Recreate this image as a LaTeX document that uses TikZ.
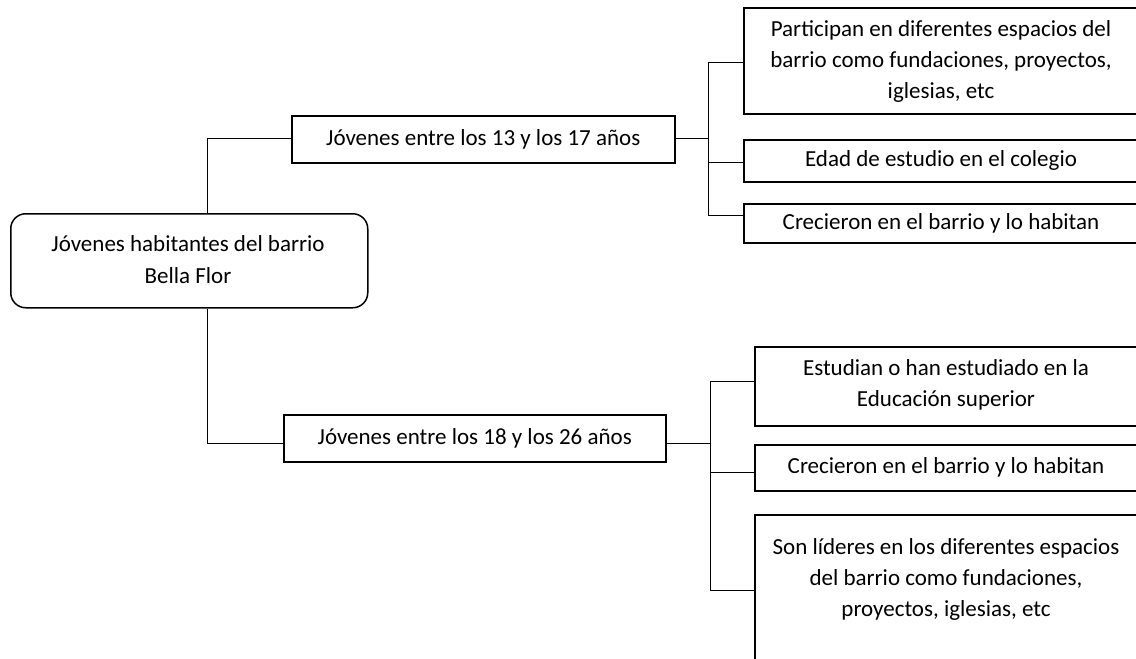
\documentclass[tikz,border=0pt]{standalone}
\usepackage{fontspec}
\setmainfont{Carlito}
\begin{document}
\begin{tikzpicture}[x=1pt,y=-1pt,
  box/.style={draw=black, line width=1.5pt, fill=white, inner sep=0pt, anchor=north west},
  txt/.style={align=center, font=\fontsize{23}{31}\selectfont, inner sep=0pt},
  conn/.style={draw=black, line width=1pt}]
\useasboundingbox (0,0) rectangle (1136,659);
\clip (0,0) rectangle (1136,659);
\fill[white] (0,0) rectangle (1136,659);
% root
\node[box, rounded corners=15pt, minimum width=357pt, minimum height=94pt] (root) at (10,213) {};
\node[txt] (roottxt) at (188,260) {Jóvenes habitantes del barrio\\[1pt]Bella Flor};
% level 1
\node[box, minimum width=383pt, minimum height=47pt] (g1) at (291,115) {};
\node[txt] at (g1.center) {Jóvenes entre los 13 y los 17 años};
\node[box, minimum width=382pt, minimum height=47pt] (g2) at (283,414) {};
\node[txt] at (g2.center) {Jóvenes entre los 18 y los 26 años};
% level 2 upper
\node[box, minimum width=400pt, minimum height=106pt] (a) at (743,7) {};
\node[txt] at (941,61) {Participan en diferentes espacios del\\barrio como fundaciones, proyectos,\\iglesias, etc};
\node[box, minimum width=400pt, minimum height=42pt] (b) at (743,139) {};
\node[txt] at (941,160) {Edad de estudio en el colegio};
\node[box, minimum width=400pt, minimum height=39pt] (c) at (743,203) {};
\node[txt] at (941,223) {Crecieron en el barrio y lo habitan};
% level 2 lower
\node[box, minimum width=390pt, minimum height=79pt] (d) at (754,346) {};
\node[txt] at (946,385) {Estudian o han estudiado en la\\Educación superior};
\node[box, minimum width=390pt, minimum height=46pt] (e) at (754,444) {};
\node[txt] at (946,467) {Crecieron en el barrio y lo habitan};
\node[box, minimum width=390pt, minimum height=160pt] (f) at (754,514) {};
\node[txt] at (946,579) {Son líderes en los diferentes espacios\\del barrio como fundaciones,\\proyectos, iglesias, etc};
% connectors
\coordinate (j1) at (207,138);
\coordinate (j2) at (207,443);
\draw[conn] (root.north -| j1) -- (j1) -- (g1.west |- j1);
\draw[conn] (root.south -| j2) -- (j2) -- (g2.west |- j2);
\coordinate (k1) at (708,138);
\draw[conn] (g1.east |- k1) -- (k1);
\draw[conn] (708,62) -- (708,215);
\draw[conn] (708,62) -- (a.west |- 0,62);
\draw[conn] (708,162) -- (b.west |- 0,162);
\draw[conn] (708,215) -- (c.west |- 0,215);
\coordinate (k2) at (710,443);
\draw[conn] (g2.east |- k2) -- (k2);
\draw[conn] (710,381) -- (710,590);
\draw[conn] (710,381) -- (d.west |- 0,381);
\draw[conn] (710,472) -- (e.west |- 0,472);
\draw[conn] (710,590) -- (f.west |- 0,590);
\end{tikzpicture}
\end{document}
